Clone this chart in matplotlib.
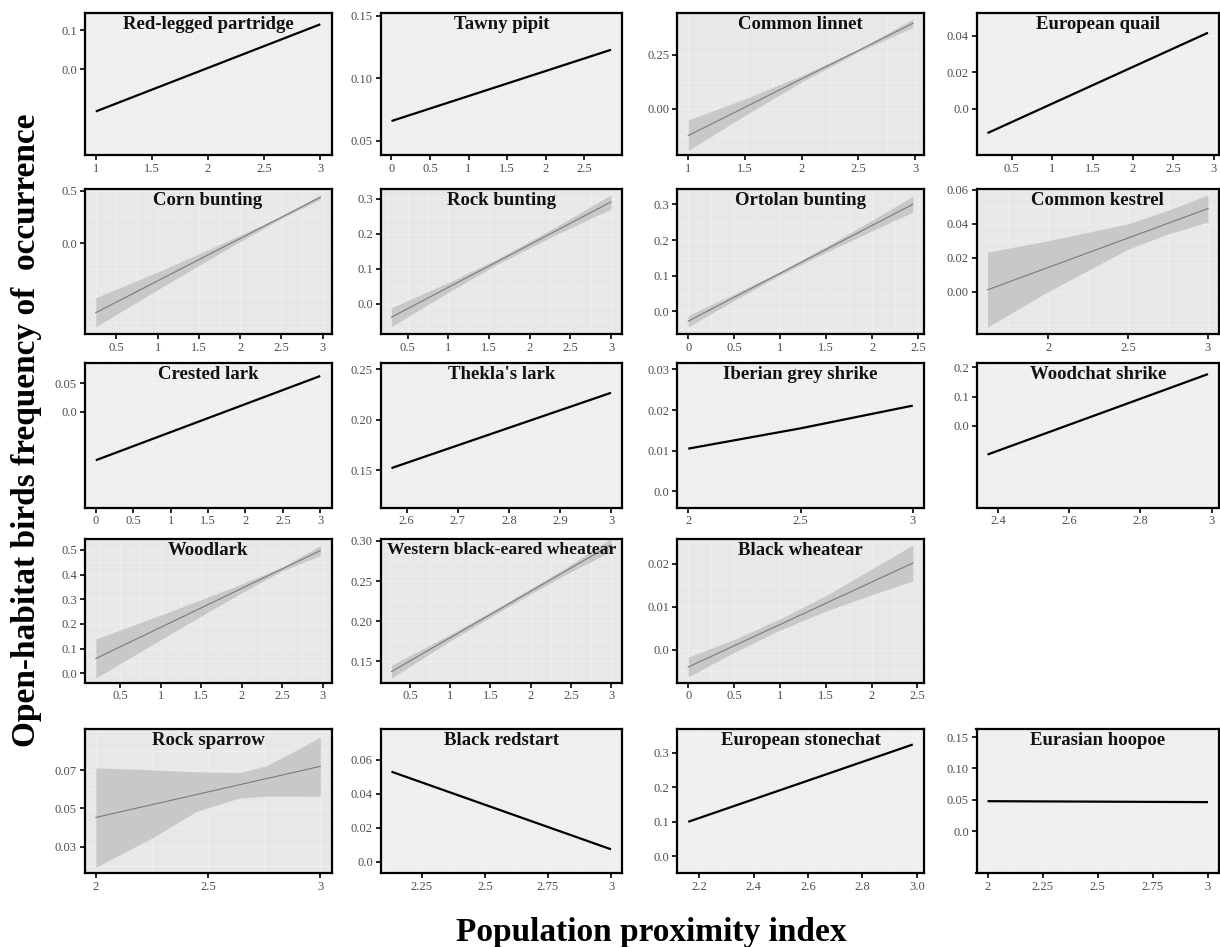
import matplotlib
matplotlib.use('Agg')
import matplotlib.pyplot as plt
from matplotlib.ticker import AutoMinorLocator

plt.rcParams['font.family'] = ['Liberation Serif', 'DejaVu Serif']

# fitted lines (predictor range, predicted frequency of occurrence)
partridge_x = [1.0, 3.0]
partridge_y = [-0.107, 0.1145]
tawny_x = [0.0, 2.85]
tawny_y = [0.0656, 0.1227]
linnet_x = [1.0, 2.98]
linnet_y = [-0.124, 0.394]
quail_x = [0.2, 2.93]
quail_y = [-0.0134, 0.0417]
corn_x = [0.25, 2.97]
corn_y = [-0.663, 0.44]
rockb_x = [0.3, 3.0]
rockb_y = [-0.038, 0.291]
ortolan_x = [0.0, 2.44]
ortolan_y = [-0.027, 0.30]
kestrel_x = [1.62, 3.0]
kestrel_y = [0.001, 0.049]
crested_x = [0.0, 3.0]
crested_y = [-0.085, 0.0629]
thekla_x = [2.57, 3.0]
thekla_y = [0.1523, 0.2266]
iberian_x = [2.0, 2.5, 3.0]
iberian_y = [0.0105, 0.0155, 0.0211]
woodchat_x = [2.37, 2.99]
woodchat_y = [-0.0986, 0.177]
woodlark_x = [0.2, 2.97]
woodlark_y = [0.06, 0.497]
wbew_x = [0.27, 3.0]
wbew_y = [0.1374, 0.295]
blackw_x = [0.0, 2.45]
blackw_y = [-0.004, 0.0202]
sparrow_x = [2.0, 3.0]
sparrow_y = [0.0453, 0.0721]
redstart_x = [2.13, 3.0]
redstart_y = [0.0529, 0.0073]
stonechat_x = [2.16, 2.985]
stonechat_y = [0.10, 0.3235]
hoopoe_x = [2.0, 3.0]
hoopoe_y = [0.0478, 0.0463]

# 95% confidence bands
linnet_bx = [1.0, 1.5, 2.0, 2.5, 2.98]
linnet_lo = [-0.193, -0.031, 0.123, 0.262, 0.375]
linnet_hi = [-0.052, 0.045, 0.153, 0.274, 0.413]
corn_bx = [0.25, 1.0, 1.5, 2.0, 2.5, 2.97]
corn_lo = [-0.797, -0.444, -0.211, 0.017, 0.237, 0.42]
corn_hi = [-0.52, -0.274, -0.101, 0.077, 0.261, 0.46]
rockb_bx = [0.3, 1.0, 1.6, 2.3, 3.0]
rockb_lo = [-0.065, 0.033, 0.113, 0.195, 0.271]
rockb_hi = [-0.011, 0.061, 0.128, 0.217, 0.311]
ortolan_bx = [0.0, 0.5, 1.0, 1.5, 2.0, 2.44]
ortolan_lo = [-0.043, 0.031, 0.102, 0.166, 0.226, 0.278]
ortolan_hi = [-0.011, 0.049, 0.112, 0.182, 0.256, 0.322]
kestrel_bx = [1.62, 2.0, 2.5, 2.75, 3.0]
kestrel_lo = [-0.021, 0.000, 0.025, 0.034, 0.041]
kestrel_hi = [0.0233, 0.030, 0.040, 0.048, 0.057]
woodlark_bx = [0.2, 1.0, 1.5, 2.0, 2.5, 2.97]
woodlark_lo = [-0.019, 0.136, 0.232, 0.326, 0.415, 0.477]
woodlark_hi = [0.139, 0.236, 0.298, 0.362, 0.431, 0.517]
wbew_bx = [0.27, 1.0, 1.7, 2.4, 3.0]
wbew_lo = [0.1294, 0.1755, 0.2169, 0.2563, 0.287]
wbew_hi = [0.1454, 0.1835, 0.2229, 0.2643, 0.303]
blackw_bx = [0.0, 0.5, 1.0, 1.5, 2.0, 2.45]
blackw_lo = [-0.0063, -0.0006, 0.0046, 0.009, 0.0128, 0.016]
blackw_hi = [-0.0017, 0.0024, 0.0072, 0.0126, 0.0188, 0.0244]
sparrow_bx = [2.0, 2.25, 2.45, 2.64, 2.76, 2.9, 3.0]
sparrow_lo = [0.0192, 0.0345, 0.0486, 0.0555, 0.0565, 0.0565, 0.0564]
sparrow_hi = [0.0713, 0.0703, 0.0692, 0.0688, 0.0724, 0.0810, 0.0874]

# tick values
x_1_3 = [1, 1.5, 2, 2.5, 3]
x_0_25 = [0, 0.5, 1, 1.5, 2, 2.5]
x_05_3 = [0.5, 1, 1.5, 2, 2.5, 3]
x_0_3 = [0, 0.5, 1, 1.5, 2, 2.5, 3]
x_2_3 = [2, 2.5, 3]
x_thekla = [2.6, 2.7, 2.8, 2.9, 3]
x_woodchat = [2.4, 2.6, 2.8, 3]
x_redstart = [2.25, 2.5, 2.75, 3]
x_stonechat = [2.2, 2.4, 2.6, 2.8, 3.0]
x_stonechat_lab = ['2.2', '2.4', '2.6', '2.8', '3.0']
x_hoopoe = [2, 2.25, 2.5, 2.75, 3]

W, H = 1220, 947
col_px = [(84.6, 331.5), (380.5, 622), (677, 924), (976.5, 1219)]
row_px = [(12.7, 155.5), (189.3, 334), (363, 507.5), (539, 682.5), (728.8, 873.3)]

fig = plt.figure(figsize=(12.2, 9.47), dpi=100)


def draw(row, col, title, x, y, xt, yt, ylab, ylim, band=None, xlab=None,
         title_size=13.5):
    x0, x1 = col_px[col]
    y0, y1 = row_px[row]
    ax = fig.add_axes([x0 / W, 1 - y1 / H, (x1 - x0) / W, (y1 - y0) / H])
    if band is not None:
        ax.set_facecolor('#e8e8e8')
        bx, lo, hi = band
        ax.fill_between(bx, lo, hi, color='#c8c8c8', lw=0, zorder=2)
        ax.plot(x, y, color='#7a7a7a', lw=0.8, zorder=3)
    else:
        ax.set_facecolor('#efefef')
        ax.plot(x, y, color='black', lw=1.6, zorder=3, solid_capstyle='butt')
    span = x[-1] - x[0]
    ax.set_xlim(x[0] - 0.05 * span, x[-1] + 0.05 * span)
    ax.set_ylim(*ylim)
    ax.set_xticks(xt)
    ax.set_xticklabels(xlab if xlab else [f'{v:g}' for v in xt])
    ax.set_yticks(yt)
    ax.set_yticklabels(ylab)
    ax.xaxis.set_minor_locator(AutoMinorLocator(2))
    ax.yaxis.set_minor_locator(AutoMinorLocator(2))
    ax.grid(which='both', color='white', lw=0.6, alpha=0.35)
    ax.set_axisbelow(True)
    ax.tick_params(which='major', length=3.5, width=1.2, color='black',
                   labelsize=9, labelcolor='#4d4d4d', pad=2)
    ax.tick_params(which='minor', length=0)
    for s in ax.spines.values():
        s.set_linewidth(1.6)
        s.set_color('black')
    ax.text(0.5, 1 - 3 / (y1 - y0), title, transform=ax.transAxes,
            ha='center', va='top', fontsize=title_size, fontweight='bold',
            color='#111111', zorder=5)
    return ax


draw(0, 0, 'Red-legged partridge', partridge_x, partridge_y, x_1_3,
     [0.0, 0.1], ['0.0', '0.1'], (-0.219, 0.144))
draw(0, 1, 'Tawny pipit', tawny_x, tawny_y, x_0_25,
     [0.05, 0.10, 0.15], ['0.05', '0.10', '0.15'], (0.038, 0.1524))
draw(0, 2, 'Common linnet', linnet_x, linnet_y, x_1_3,
     [0.0, 0.25], ['0.00', '0.25'], (-0.216, 0.443),
     band=(linnet_bx, linnet_lo, linnet_hi))
draw(0, 3, 'European quail', quail_x, quail_y, x_05_3,
     [0.0, 0.02, 0.04], ['0.0', '0.02', '0.04'], (-0.0257, 0.0527))

draw(1, 0, 'Corn bunting', corn_x, corn_y, x_05_3,
     [0.0, 0.5], ['0.0', '0.5'], (-0.867, 0.516),
     band=(corn_bx, corn_lo, corn_hi))
draw(1, 1, 'Rock bunting', rockb_x, rockb_y, x_05_3,
     [0.0, 0.1, 0.2, 0.3], ['0.0', '0.1', '0.2', '0.3'], (-0.086, 0.327),
     band=(rockb_bx, rockb_lo, rockb_hi))
draw(1, 2, 'Ortolan bunting', ortolan_x, ortolan_y, x_0_25,
     [0.0, 0.1, 0.2, 0.3], ['0.0', '0.1', '0.2', '0.3'], (-0.063, 0.342),
     band=(ortolan_bx, ortolan_lo, ortolan_hi))
draw(1, 3, 'Common kestrel', kestrel_x, kestrel_y, x_2_3,
     [0.0, 0.02, 0.04, 0.06], ['0.00', '0.02', '0.04', '0.06'], (-0.0251, 0.0604),
     band=(kestrel_bx, kestrel_lo, kestrel_hi))

draw(2, 0, 'Crested lark', crested_x, crested_y, x_0_3,
     [0.0, 0.05], ['0.0', '0.05'], (-0.168, 0.0857))
draw(2, 1, "Thekla's lark", thekla_x, thekla_y, x_thekla,
     [0.15, 0.20, 0.25], ['0.15', '0.20', '0.25'], (0.1134, 0.256))
draw(2, 2, 'Iberian grey shrike', iberian_x, iberian_y, x_2_3,
     [0.0, 0.01, 0.02, 0.03], ['0.0', '0.01', '0.02', '0.03'], (-0.004, 0.0316))
draw(2, 3, 'Woodchat shrike', woodchat_x, woodchat_y, x_woodchat,
     [0.0, 0.1, 0.2], ['0.0', '0.1', '0.2'], (-0.28, 0.215))

draw(3, 0, 'Woodlark', woodlark_x, woodlark_y, x_05_3,
     [0.0, 0.1, 0.2, 0.3, 0.4, 0.5], ['0.0', '0.1', '0.2', '0.3', '0.4', '0.5'],
     (-0.037, 0.544), band=(woodlark_bx, woodlark_lo, woodlark_hi))
draw(3, 1, 'Western black-eared wheatear', wbew_x, wbew_y, x_05_3,
     [0.15, 0.20, 0.25, 0.30], ['0.15', '0.20', '0.25', '0.30'], (0.1238, 0.3023),
     band=(wbew_bx, wbew_lo, wbew_hi), title_size=12.6)
draw(3, 2, 'Black wheatear', blackw_x, blackw_y, x_0_25,
     [0.0, 0.01, 0.02], ['0.0', '0.01', '0.02'], (-0.0076, 0.0258),
     band=(blackw_bx, blackw_lo, blackw_hi))

draw(4, 0, 'Rock sparrow', sparrow_x, sparrow_y, x_2_3,
     [0.03, 0.05, 0.07], ['0.03', '0.05', '0.07'], (0.016, 0.0918),
     band=(sparrow_bx, sparrow_lo, sparrow_hi))
draw(4, 1, 'Black redstart', redstart_x, redstart_y, x_redstart,
     [0.0, 0.02, 0.04, 0.06], ['0.0', '0.02', '0.04', '0.06'], (-0.0068, 0.0781))
draw(4, 2, 'European stonechat', stonechat_x, stonechat_y, x_stonechat,
     [0.0, 0.1, 0.2, 0.3], ['0.0', '0.1', '0.2', '0.3'], (-0.049, 0.369),
     xlab=x_stonechat_lab)
draw(4, 3, 'Eurasian hoopoe', hoopoe_x, hoopoe_y, x_hoopoe,
     [0.0, 0.05, 0.10, 0.15], ['0.0', '0.05', '0.10', '0.15'], (-0.0674, 0.1634))

fig.text(27 / W, 1 - 430 / H, 'Open-habitat birds frequency of  occurrence',
         rotation=90, ha='center', va='center', fontsize=24, fontweight='bold')
fig.text(651 / W, 1 - 941 / H, 'Population proximity index',
         ha='center', va='baseline', fontsize=24, fontweight='bold')

fig.savefig('out.png', dpi=100)
